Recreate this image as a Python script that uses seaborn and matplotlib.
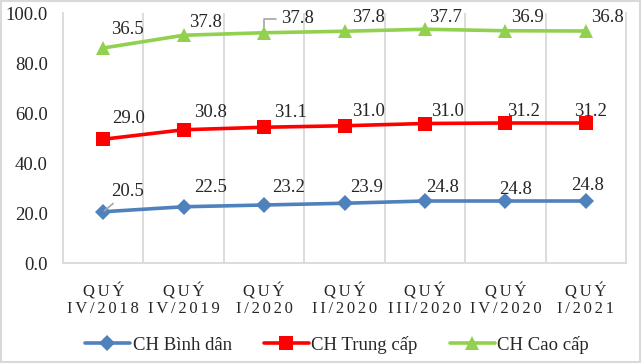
import numpy as np
import pandas as pd
import matplotlib
matplotlib.use("Agg")
import matplotlib.pyplot as plt
from matplotlib.patches import Rectangle
import seaborn as sns

# --- data (share of each hotel group, stacked in the chart) ---
quarters = ["QUÝ\nIV/2018", "QUÝ\nIV/2019", "QUÝ\nI/2020", "QUÝ\nII/2020",
            "QUÝ\nIII/2020", "QUÝ\nIV/2020", "QUÝ\nI/2021"]
binh_dan = [20.5, 22.5, 23.2, 23.9, 24.8, 24.8, 24.8]
trung_cap = [29.0, 30.8, 31.1, 31.0, 31.0, 31.2, 31.2]
cao_cap = [36.5, 37.8, 37.8, 37.8, 37.7, 36.9, 36.8]
series_names = ["CH Bình dân", "CH Trung cấp", "CH Cao cấp"]

# --- style ---
sns.set_style("white")
plt.rcParams['font.family'] = ['Liberation Serif', 'DejaVu Serif']
colors = ["#4F81BD", "#FF0000", "#92D050"]
markers = ["D", "s", "^"]
msizes = [8.5, 10, 10]
grid_col = "#D9D9D9"

# label offsets (pixels: dx, dy up) for each series
offsets = [
    [(24, 20), (27, 19), (24, 17), (22, 16), (18, 14), (10, 12), (2, 16)],
    [(25, 21), (27, 17), (26, 15), (24, 14), (23, 12), (18, 11), (5, 11)],
    [(24, 18), (22, 13), (33, 14), (24, 14), (21, 12), (22, 13), (22, 14)],
]

fig = plt.figure(figsize=(6.41, 3.63), dpi=100)
ax = fig.add_axes([63 / 641, 100 / 363, 563 / 641, 250 / 363])

# stacked line chart: each line sits on top of the previous
raw = [binh_dan, trung_cap, cao_cap]
stacked = np.cumsum(np.array(raw), axis=0)
xpos = np.arange(len(quarters))

for i, name in enumerate(series_names):
    sns.lineplot(x=xpos, y=stacked[i], ax=ax, color=colors[i], linewidth=2.6,
                 marker=markers[i], markersize=msizes[i],
                 markeredgecolor=colors[i], markeredgewidth=0, label=name)
    for j, v in enumerate(raw[i]):
        dx, dy = offsets[i][j]
        arrow = None
        if (i, j) == (0, 0):
            arrow = dict(arrowstyle="-", color="#A6A6A6", lw=1.2,
                         shrinkA=0, shrinkB=1)
        if (i, j) == (2, 2):
            arrow = dict(arrowstyle="-", color="#A6A6A6", lw=1.2,
                         connectionstyle="angle,angleA=0,angleB=90",
                         shrinkA=1, shrinkB=4)
        ax.annotate(f"{v:.1f}", xy=(xpos[j], stacked[i][j]),
                    xytext=(dx * 0.72, dy * 0.72), textcoords="offset points",
                    ha="center", va="center", fontsize=13.5,
                    arrowprops=arrow, zorder=5)

ax.set_xlim(-0.5, len(quarters) - 0.5)
ax.set_ylim(0, 100)
ax.set_yticks(np.arange(0, 101, 20))
ax.set_yticklabels([f"{t:.1f}" for t in np.arange(0, 101, 20)], fontsize=13.5)
ax.set_xticks(xpos)
# Excel draws these labels with a little letter spacing
spaced = ["\n".join("\u2006".join(part) for part in q.split("\n")) for q in quarters]
ax.set_xticklabels(spaced, fontsize=12, linespacing=1.1)
ax.tick_params(axis="both", length=0)
ax.tick_params(axis="y", pad=11)
ax.tick_params(axis="x", pad=14.5)
ax.set_xlabel("")
ax.set_ylabel("")

ax.set_xticks(np.arange(0.5, len(quarters) - 0.5, 1), minor=True)
ax.grid(False)
ax.grid(which="minor", axis="x", color=grid_col, linewidth=1.3)
for side in ["left", "right", "bottom"]:
    ax.spines[side].set_color(grid_col)
    ax.spines[side].set_linewidth(1.3)
ax.spines["top"].set_visible(False)

ax.legend(loc="center", bbox_to_anchor=(337 / 641, 18 / 363),
          bbox_transform=fig.transFigure, ncol=3, frameon=False,
          fontsize=13.5, handlelength=2.4, handletextpad=0.15,
          columnspacing=1.7)

fig.patches.append(Rectangle((0.001, 0.002), 0.997, 0.995, transform=fig.transFigure,
                             fill=False, edgecolor=grid_col, linewidth=1.5))

fig.savefig("out.png", dpi=100)
